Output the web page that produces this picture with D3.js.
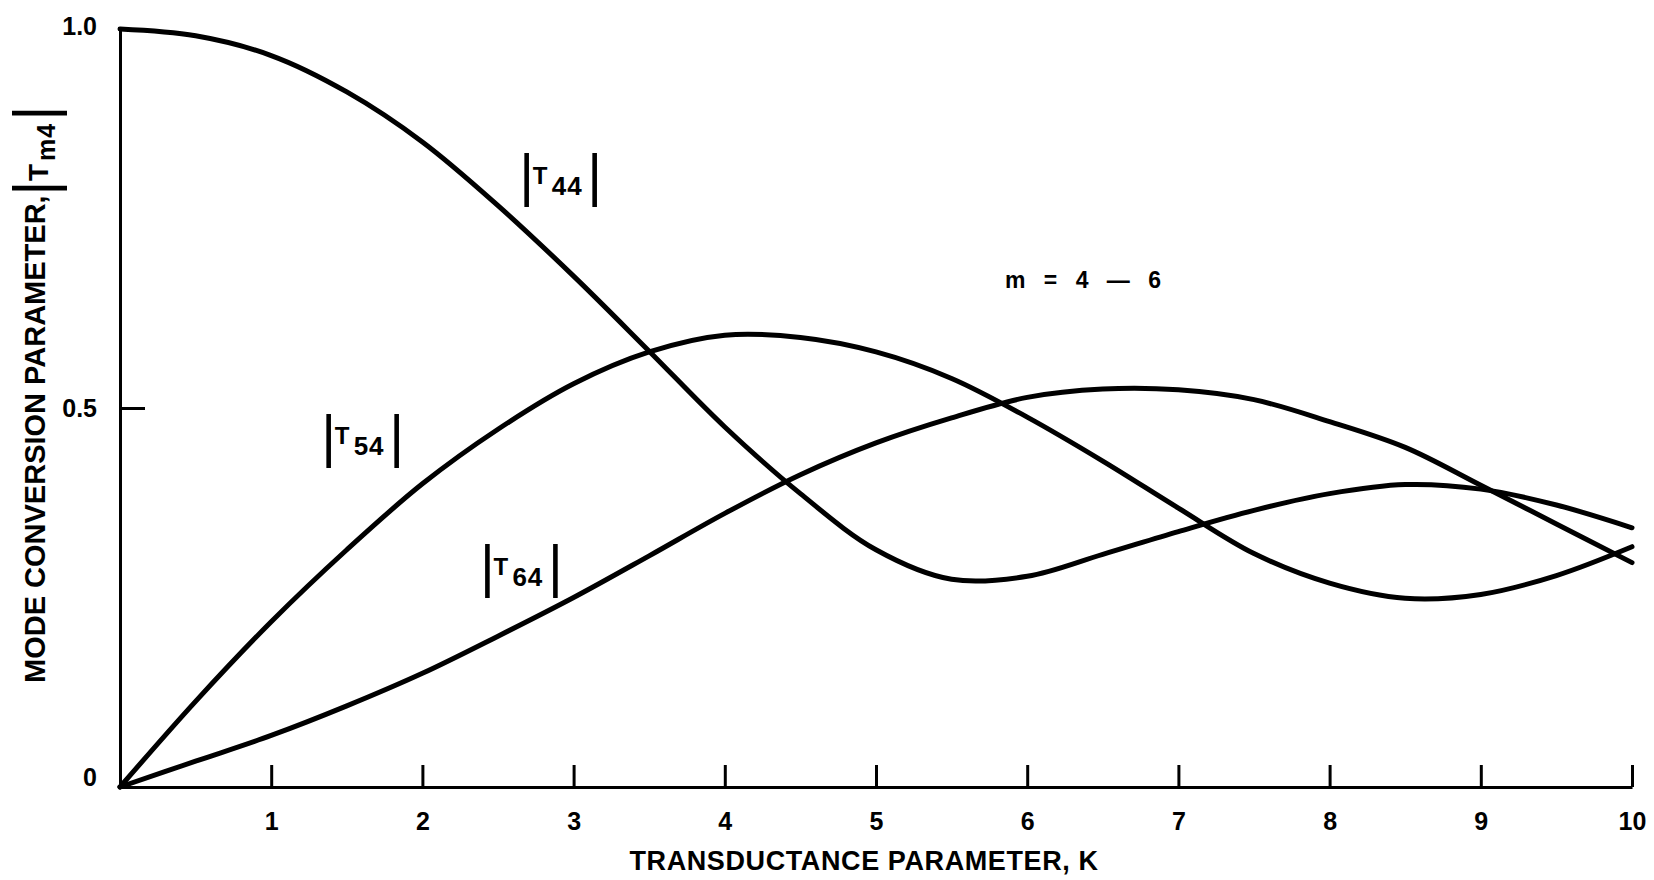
<!DOCTYPE html>
<html>
<head>
<meta charset="utf-8">
<script src="https://cdn.jsdelivr.net/npm/d3@7"></script>
<style>
body { margin: 0; background: #fff; }
svg { display: block; }
text { font-family: "Liberation Sans", Arial, sans-serif; font-weight: bold; fill: #000; }
</style>
</head>
<body>
<svg id="chart" width="1654" height="880"></svg>
<script>
// values
var kValues = [0, 0.5, 1, 1.5, 2, 2.5, 3, 3.5, 4, 4.5, 5, 5.5, 6, 6.5, 7, 7.5, 8, 8.5, 9, 9.5, 10];
var t44 = [1.0, 0.991, 0.965, 0.917, 0.851, 0.767, 0.674, 0.575, 0.475, 0.387, 0.313, 0.274, 0.278, 0.307, 0.337, 0.365, 0.387, 0.399, 0.393, 0.372, 0.342];
var t54 = [0, 0.113, 0.218, 0.313, 0.400, 0.472, 0.532, 0.574, 0.596, 0.593, 0.574, 0.539, 0.488, 0.430, 0.368, 0.308, 0.269, 0.249, 0.254, 0.279, 0.317];
var t64 = [0, 0.034, 0.068, 0.107, 0.150, 0.199, 0.250, 0.305, 0.361, 0.412, 0.454, 0.487, 0.514, 0.525, 0.524, 0.511, 0.482, 0.448, 0.398, 0.347, 0.296];

var xTicks = [1, 2, 3, 4, 5, 6, 7, 8, 9, 10];
var yTicks = [0, 0.5, 1.0];
var yTickLabels = ["0", "0.5", "1.0"];

var curveNames = ["44", "54", "64"];
var labelK = [2.69, 1.38, 2.43];
var labelV = [0.80, 0.456, 0.284];

var xLabel = "TRANSDUCTANCE PARAMETER, K";
var yLabel = "MODE CONVERSION PARAMETER, ";
var note = "m = 4 \u2014 6";

var svg = d3.select("#chart");

var x = d3.scaleLinear().domain([0, 10]).range([120, 1632]);
var y = d3.scaleLinear().domain([0, 1]).range([787, 29]);

// axes
var gx = svg.append("g")
    .attr("transform", "translate(0," + y(0) + ")")
    .call(d3.axisBottom(x).tickValues(xTicks).tickSizeInner(-22).tickSizeOuter(0).tickPadding(25).tickFormat(d3.format("d")));
gx.select(".domain").attr("stroke-width", 3);
gx.selectAll(".tick line").attr("stroke-width", 3);
gx.selectAll(".tick text").style("font-size", "25px");

var gy = svg.append("g")
    .attr("transform", "translate(" + x(0) + ",0)")
    .call(d3.axisLeft(y).tickValues(yTicks).tickSizeInner(-25).tickSizeOuter(0).tickPadding(23)
        .tickFormat(function(d, i) { return yTickLabels[i]; }));
gy.select(".domain").attr("stroke-width", 3);
gy.selectAll(".tick line").attr("stroke-width", function(d) { return d === 0.5 ? 3 : 0; });
gy.selectAll(".tick text")
    .style("font-size", "25px")
    .attr("y", function(d) { return d === 0 ? -10 : (d === 1 ? -3 : 0); });

// curves
var line = d3.line()
    .x(function(d) { return x(d[0]); })
    .y(function(d) { return y(d[1]); })
    .curve(d3.curveCatmullRom.alpha(0.5));

[t44, t54, t64].forEach(function(vals) {
    svg.append("path")
        .datum(d3.zip(kValues, vals))
        .attr("d", line)
        .attr("fill", "none")
        .attr("stroke", "#000")
        .attr("stroke-width", 5)
        .attr("stroke-linecap", "round")
        .attr("stroke-linejoin", "round");
});

// |T..| label: bx = left bar, cy = middle of bars
function absLabel(g, bx, cy, sub, o) {
    g.append("text").attr("x", bx).attr("y", cy + 0.259 * o.bar)
        .attr("text-anchor", "middle").style("font-weight", "normal").style("font-size", o.bar + "px").text("|");
    g.append("text").attr("x", bx + o.tx).attr("y", cy + o.ty)
        .style("font-size", o.tSize + "px").text("T");
    g.append("text").attr("x", bx + o.sx).attr("y", cy + o.sy)
        .style("font-size", o.sSize + "px").style("letter-spacing", "1px").text(sub);
    g.append("text").attr("x", bx + o.gap).attr("y", cy + 0.259 * o.bar)
        .attr("text-anchor", "middle").style("font-weight", "normal").style("font-size", o.bar + "px").text("|");
}

curveNames.forEach(function(n, i) {
    absLabel(svg, x(labelK[i]), y(labelV[i]), n,
        { bar: 57, gap: 68, tx: 6, ty: 3, tSize: 24, sx: 25, sy: 14, sSize: 26 });
});

svg.append("text")
    .attr("x", x(5.853)).attr("y", y(0.658))
    .style("font-size", "23px")
    .style("word-spacing", "12px")
    .text(note);

// axis titles
svg.append("text")
    .attr("x", 864).attr("y", 870)
    .attr("text-anchor", "middle")
    .style("font-size", "27px")
    .style("letter-spacing", "0.6px")
    .text(xLabel);

var yl = svg.append("g").attr("transform", "translate(45,683) rotate(-90)");
yl.append("text").attr("x", 0).attr("y", 0)
    .style("font-size", "29px")
    .text(yLabel);
absLabel(yl, 495, -5, "m4",
    { bar: 59, gap: 75, tx: 7, ty: 8, tSize: 28, sx: 27, sy: 15, sSize: 25 });
</script>
</body>
</html>
